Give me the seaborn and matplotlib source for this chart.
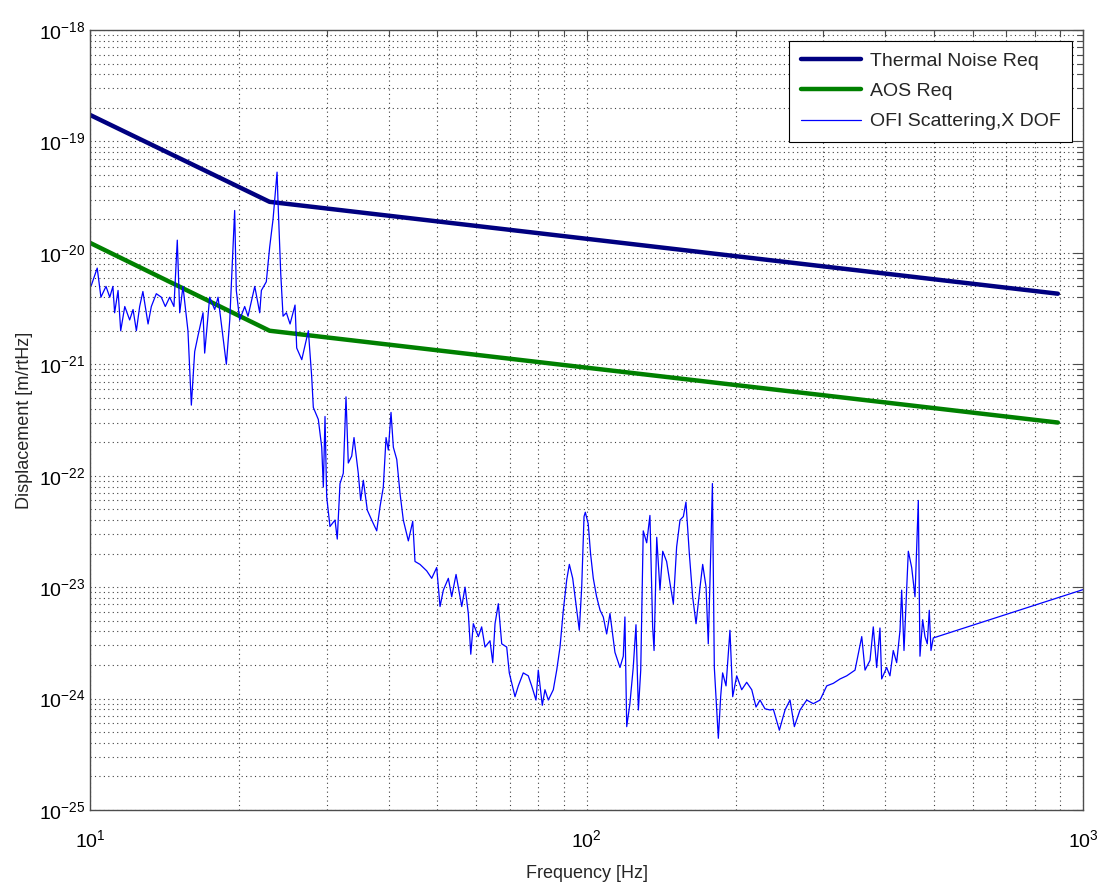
import numpy as np
import matplotlib
matplotlib.use("Agg")
import matplotlib.pyplot as plt
import matplotlib.ticker as mticker
import seaborn as sns

# requirement curves (Hz, m/rtHz)
thermal_freq = [10, 23.0, 890]
thermal_disp = [1.73e-19, 2.87e-20, 4.3e-21]
aos_freq = [10, 23.0, 890]
aos_disp = [1.23e-20, 2.0e-21, 3.0e-22]

# measured OFI scattering noise, X DOF
noise_freq = [
    10.06, 10.34, 10.52, 10.77, 10.96, 11.12, 11.21, 11.39, 11.53, 11.75,
    12.02, 12.21, 12.40, 12.59, 12.78, 13.09, 13.29, 13.60, 13.92, 14.18,
    14.47, 14.76, 14.99, 15.16, 15.39, 15.75, 16.00, 16.25, 16.50, 16.89,
    17.02, 17.42, 17.83, 18.11, 18.39, 18.82, 19.12, 19.56, 19.71, 20.02,
    20.49, 20.81, 21.47, 21.97, 22.14, 22.65, 23.01, 23.37, 23.81, 23.92,
    24.22, 24.48, 24.86, 25.29, 25.88, 26.08, 26.70, 27.53, 27.96, 28.17,
    28.83, 29.29, 29.51, 29.74, 29.97, 30.43, 31.15, 31.48, 31.88, 32.37,
    32.78, 33.13, 33.66, 34.02, 34.70, 35.09, 35.52, 36.19, 36.93, 37.80,
    38.39, 38.97, 39.47, 39.89, 40.39, 40.83, 41.48, 42.12, 42.76, 43.77,
    44.67, 45.14, 46.20, 47.66, 48.78, 49.92, 50.70, 51.48, 52.69, 53.52,
    54.61, 56.07, 56.94, 57.81, 58.47, 59.16, 60.55, 61.50, 62.46, 63.92,
    64.74, 65.43, 66.44, 67.49, 69.07, 69.90, 71.78, 72.89, 74.58, 76.34,
    77.55, 79.12, 79.96, 81.46, 82.48, 83.77, 85.73, 87.10, 88.44, 89.81,
    91.23, 92.35, 93.80, 95.57, 96.72, 97.80, 98.86, 99.45, 100.8, 101.9,
    103.2, 104.8, 106.5, 108.1, 109.8, 111.5, 114.1, 116.8, 118.6, 119.5,
    120.5, 122.3, 124.2, 125.8, 127.2, 128.6, 130.1, 132.2, 134.2, 135.9,
    136.8, 138.5, 140.6, 142.4, 145.0, 147.3, 149.6, 151.9, 154.3, 156.7,
    158.6, 161.1, 163.6, 166.2, 169.3, 171.4, 174.1, 175.9, 177.9, 179.3,
    180.9, 182.9, 184.3, 186.3, 188.0, 191.0, 194.5, 197.0, 200.7, 205.4,
    210.2, 215.2, 219.5, 223.6, 228.8, 234.2, 237.9, 244.6, 251.1, 257.0,
    262.2, 269.2, 277.7, 286.3, 295.4, 304.7, 314.1, 324.1, 334.3, 347.4,
    358.4, 363.9, 372.4, 378.1, 384.1, 390.0, 393.1, 402.3, 408.5, 414.8,
    421.4, 428.0, 431.3, 436.0, 444.8, 451.8, 458.8, 465.9, 469.5, 475.4,
    480.5, 485.7, 490.2, 494.1, 499.4, 1000,
]
noise_disp = [
    5.1e-21, 7.3e-21, 4.0e-21, 5.0e-21, 4.0e-21, 5.0e-21, 2.9e-21, 4.6e-21, 2.0e-21, 3.3e-21,
    2.5e-21, 3.1e-21, 2.0e-21, 3.3e-21, 4.5e-21, 2.3e-21, 3.3e-21, 4.3e-21, 4.0e-21, 3.3e-21,
    4.0e-21, 3.3e-21, 1.3e-20, 2.9e-21, 5.0e-21, 2.0e-21, 4.3e-22, 1.3e-21, 1.8e-21, 2.9e-21,
    1.26e-21, 4.0e-21, 3.1e-21, 4.0e-21, 2.3e-21, 1.0e-21, 2.5e-21, 2.4e-20, 4.6e-21, 2.5e-21,
    3.3e-21, 2.7e-21, 5.0e-21, 2.9e-21, 4.6e-21, 5.5e-21, 1.13e-20, 2.0e-20, 5.3e-20, 2.8e-20,
    6.5e-21, 2.7e-21, 2.9e-21, 2.3e-21, 3.4e-21, 1.4e-21, 1.1e-21, 2.0e-21, 7.7e-22, 4.1e-22,
    3.2e-22, 1.8e-22, 7.9e-23, 3.4e-22, 6.5e-23, 3.5e-23, 4.0e-23, 2.7e-23, 8.5e-23, 1.05e-22,
    5.1e-22, 1.3e-22, 1.5e-22, 2.2e-22, 1.05e-22, 6.0e-23, 9.1e-23, 4.9e-23, 4.0e-23, 3.2e-23,
    5.3e-23, 7.9e-23, 2.2e-22, 1.7e-22, 3.7e-22, 1.8e-22, 1.4e-22, 6.9e-23, 4.0e-23, 2.6e-23,
    3.9e-23, 1.7e-23, 1.6e-23, 1.4e-23, 1.2e-23, 1.5e-23, 6.7e-24, 9.4e-24, 1.2e-23, 8.2e-24,
    1.3e-23, 6.7e-24, 1.0e-23, 5.8e-24, 2.5e-24, 4.7e-24, 3.6e-24, 4.4e-24, 2.9e-24, 3.3e-24,
    2.1e-24, 4.7e-24, 7.1e-24, 3.1e-24, 2.9e-24, 1.7e-24, 1.04e-24, 1.3e-24, 1.7e-24, 1.6e-24,
    1.3e-24, 9.7e-25, 1.8e-24, 8.7e-25, 1.2e-24, 9.7e-25, 1.2e-24, 1.8e-24, 2.9e-24, 6.2e-24,
    1.16e-23, 1.6e-23, 1.2e-23, 6.2e-24, 4.1e-24, 1.0e-23, 4.3e-23, 4.7e-23, 3.7e-23, 2.0e-23,
    1.2e-23, 8.2e-24, 6.2e-24, 5.4e-24, 3.8e-24, 5.8e-24, 2.6e-24, 1.9e-24, 2.4e-24, 5.4e-24,
    5.6e-25, 9.0e-25, 1.9e-24, 4.6e-24, 7.9e-25, 1.8e-24, 3.2e-23, 2.5e-23, 4.4e-23, 4.4e-24,
    2.7e-24, 2.8e-23, 9.4e-24, 2.1e-23, 1.7e-23, 1.08e-23, 7.1e-24, 2.3e-23, 4.0e-23, 4.3e-23,
    5.8e-23, 2.0e-23, 8.2e-24, 4.7e-24, 1.0e-23, 1.6e-23, 1.0e-23, 3.1e-24, 2.0e-23, 8.5e-23,
    1.9e-24, 7.9e-25, 4.4e-25, 1.04e-24, 1.7e-24, 1.3e-24, 4.1e-24, 1.04e-24, 1.6e-24, 1.2e-24,
    1.4e-24, 1.2e-24, 8.4e-25, 9.7e-25, 8.1e-25, 7.9e-25, 8.0e-25, 5.2e-25, 7.9e-25, 9.7e-25,
    5.6e-25, 7.9e-25, 9.7e-25, 9.0e-25, 9.7e-25, 1.3e-24, 1.37e-24, 1.5e-24, 1.6e-24, 1.8e-24,
    3.6e-24, 1.8e-24, 2.2e-24, 4.4e-24, 1.9e-24, 4.3e-24, 1.5e-24, 1.9e-24, 1.6e-24, 2.7e-24,
    2.1e-24, 4.1e-24, 9.4e-24, 2.7e-24, 2.1e-23, 1.5e-23, 8.2e-24, 6.0e-23, 2.4e-24, 5.1e-24,
    3.6e-24, 3.1e-24, 6.2e-24, 2.7e-24, 3.5e-24, 9.5e-24,
]

x_major = [10, 100, 1000]
y_major = [1e-25, 1e-24, 1e-23, 1e-22, 1e-21, 1e-20, 1e-19, 1e-18]

sns.set_style("white")
plt.rcParams["font.family"] = ["Liberation Sans", "DejaVu Sans"]
plt.rcParams["mathtext.fontset"] = "custom"
plt.rcParams["mathtext.rm"] = "Liberation Sans"
plt.rcParams["mathtext.default"] = "regular"

fig = plt.figure(figsize=(10.99, 8.92), dpi=100)
ax = fig.add_axes([90 / 1099, 1 - 810 / 892, 993 / 1099, 780 / 892])

sns.lineplot(x=thermal_freq, y=thermal_disp, ax=ax, color="#000080", lw=3.2,
             estimator=None, label="Thermal Noise Req")
sns.lineplot(x=aos_freq, y=aos_disp, ax=ax, color="#008000", lw=3.2,
             estimator=None, label="AOS Req")
sns.lineplot(x=noise_freq, y=noise_disp, ax=ax, color="#0000ff", lw=0.9,
             estimator=None, label="OFI Scattering,X DOF")

ax.set_xscale("log")
ax.set_yscale("log")
ax.set_xlim(10, 1000)
ax.set_ylim(1e-25, 1e-18)

ax.xaxis.set_major_locator(mticker.FixedLocator(x_major))
ax.yaxis.set_major_locator(mticker.FixedLocator(y_major))
ax.xaxis.set_major_formatter(mticker.LogFormatterSciNotation())
ax.yaxis.set_major_formatter(mticker.LogFormatterSciNotation())
ax.xaxis.set_minor_locator(mticker.LogLocator(base=10, subs=np.arange(2, 10), numticks=20))
ax.yaxis.set_minor_locator(mticker.LogLocator(base=10, subs=np.arange(2, 10), numticks=20))
ax.yaxis.set_minor_formatter(mticker.NullFormatter())
ax.xaxis.set_minor_formatter(mticker.NullFormatter())

ax.grid(True, which="both", linestyle=(0, (1, 3)), color="0.25", lw=0.8)
ax.tick_params(which="both", direction="in", top=True, right=True, colors="0.3",
               labelcolor="black", labelsize=14)
ax.tick_params(which="major", length=7, width=0.8)
ax.tick_params(which="minor", length=4, width=0.8)
ax.tick_params(axis="x", pad=14)
for s in ax.spines.values():
    s.set_color("0.3")
    s.set_linewidth(1.0)

ax.set_xlabel("Frequency [Hz]", fontsize=13, labelpad=10)
ax.set_ylabel("Displacement [m/rtHz]", fontsize=13, labelpad=4)

leg = ax.legend(loc="upper right", fontsize=14, fancybox=False, framealpha=1,
                edgecolor="black", handlelength=3.1, handletextpad=0.45,
                borderaxespad=0.55, labelspacing=0.65, borderpad=0.6)
leg.get_frame().set_linewidth(0.8)

fig.savefig("out.png", dpi=100)
